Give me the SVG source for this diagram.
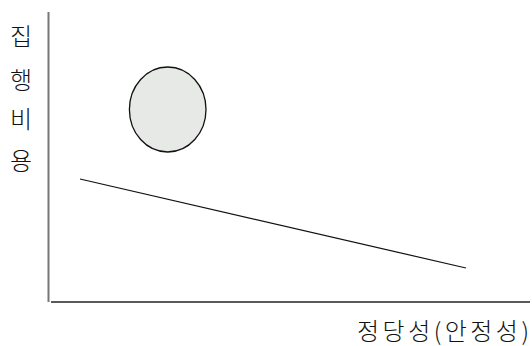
<svg xmlns="http://www.w3.org/2000/svg" width="532" height="346" viewBox="0 0 532 346">
<style>
.t{font-family:"Noto Sans CJK KR","Noto Sans",sans-serif;font-size:24px;fill:#111;font-weight:300}
</style>
<rect width="532" height="346" fill="#fff"/>
<g id="axes">
<line x1="48.5" y1="12" x2="48.5" y2="302" stroke="#777" stroke-width="2"/>
<line x1="51" y1="302" x2="530" y2="302" stroke="#222" stroke-width="1.5"/>
</g>
<g id="ellipse"><ellipse cx="167.7" cy="109.5" rx="38.3" ry="42.5" fill="#e6e9e6" stroke="#111" stroke-width="1.3"/></g>
<g id="connectors"><line x1="80" y1="179" x2="466" y2="268" stroke="#111" stroke-width="1.2"/></g>
<g id="ylabel">
<text class="t" x="21" y="45" text-anchor="middle">집</text>
<text class="t" x="21" y="89" text-anchor="middle">행</text>
<text class="t" x="21" y="128" text-anchor="middle">비</text>
<text class="t" x="21" y="170" text-anchor="middle">용</text>
</g>
<g id="xlabel"><text class="t" x="357" y="340" textLength="172" lengthAdjust="spacing">정당성(안정성)</text></g>
</svg>
